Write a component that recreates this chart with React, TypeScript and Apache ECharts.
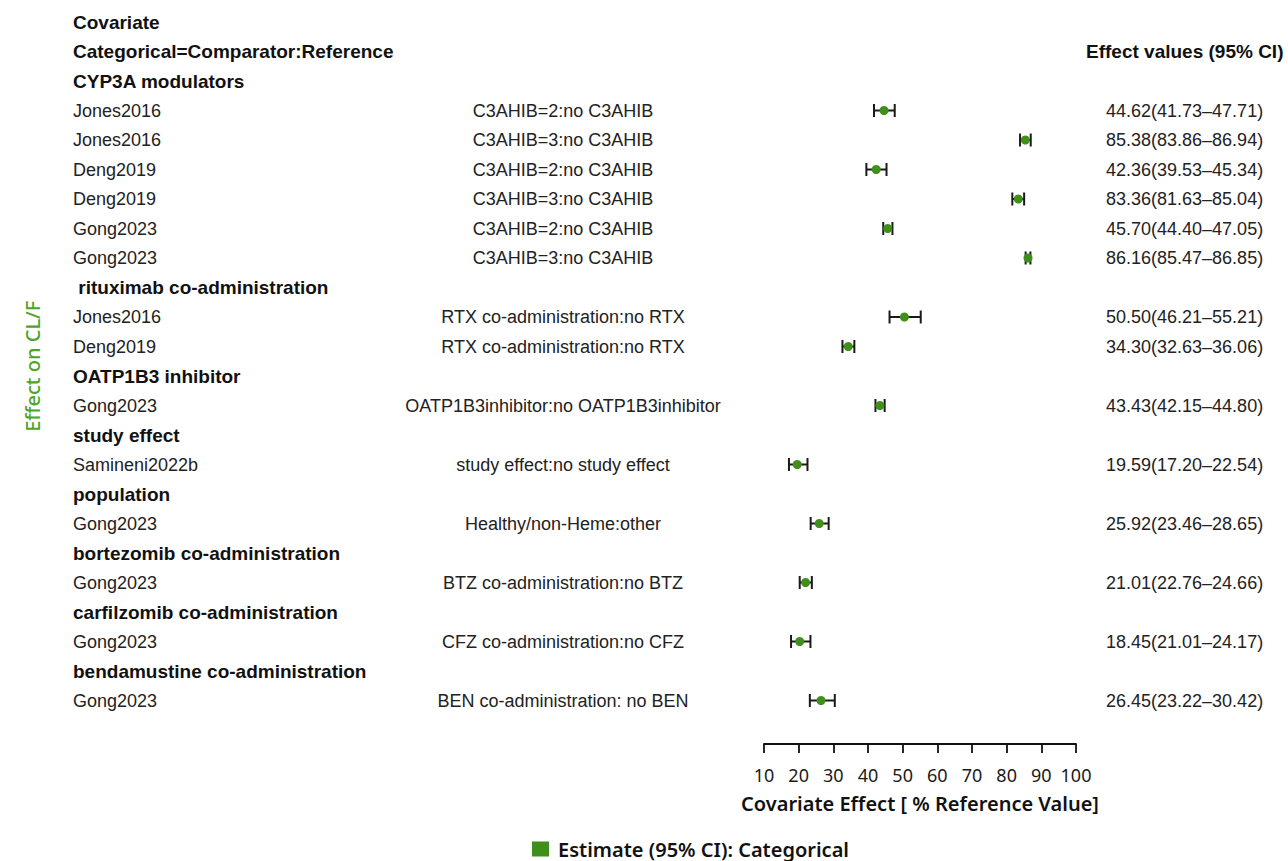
import React, { useEffect, useRef } from "react";
import * as echarts from "echarts";

// ---- Data ----
const rowLabels = [
  "Covariate",
  "Categorical=Comparator:Reference",
  "CYP3A modulators",
  "Jones2016",
  "Jones2016",
  "Deng2019",
  "Deng2019",
  "Gong2023",
  "Gong2023",
  " rituximab co-administration",
  "Jones2016",
  "Deng2019",
  "OATP1B3 inhibitor",
  "Gong2023",
  "study effect",
  "Samineni2022b",
  "population",
  "Gong2023",
  "bortezomib co-administration",
  "Gong2023",
  "carfilzomib co-administration",
  "Gong2023",
  "bendamustine co-administration",
  "Gong2023",
];

const headerRows = [0, 1, 2, 9, 12, 14, 16, 18, 20, 22];

const comparators = [
  "", "", "",
  "C3AHIB=2:no C3AHIB",
  "C3AHIB=3:no C3AHIB",
  "C3AHIB=2:no C3AHIB",
  "C3AHIB=3:no C3AHIB",
  "C3AHIB=2:no C3AHIB",
  "C3AHIB=3:no C3AHIB",
  "",
  "RTX co-administration:no RTX",
  "RTX co-administration:no RTX",
  "",
  "OATP1B3inhibitor:no OATP1B3inhibitor",
  "",
  "study effect:no study effect",
  "",
  "Healthy/non-Heme:other",
  "",
  "BTZ co-administration:no BTZ",
  "",
  "CFZ co-administration:no CFZ",
  "",
  "BEN co-administration: no BEN",
];

const effectLabels = [
  "",
  "Effect values (95% CI)",
  "",
  "44.62(41.73–47.71)",
  "85.38(83.86–86.94)",
  "42.36(39.53–45.34)",
  "83.36(81.63–85.04)",
  "45.70(44.40–47.05)",
  "86.16(85.47–86.85)",
  "",
  "50.50(46.21–55.21)",
  "34.30(32.63–36.06)",
  "",
  "43.43(42.15–44.80)",
  "",
  "19.59(17.20–22.54)",
  "",
  "25.92(23.46–28.65)",
  "",
  "21.01(22.76–24.66)",
  "",
  "18.45(21.01–24.17)",
  "",
  "26.45(23.22–30.42)",
];

const dataRows = [3, 4, 5, 6, 7, 8, 10, 11, 13, 15, 17, 19, 21, 23];
const estimates = [44.62, 85.38, 42.36, 83.36, 45.7, 86.16, 50.5, 34.3, 43.43, 19.59, 25.92, 22.0, 20.3, 26.45];
const lowers = [41.73, 83.86, 39.53, 81.63, 44.4, 85.47, 46.21, 32.63, 42.15, 17.2, 23.46, 20.3, 17.8, 23.22];
const uppers = [47.71, 86.94, 45.34, 85.04, 47.05, 86.85, 55.21, 36.06, 44.8, 22.54, 28.65, 23.8, 23.4, 30.42];

const xTicks = [10, 20, 30, 40, 50, 60, 70, 80, 90, 100];

const legendName = "Estimate (95% CI): Categorical";

// ---- Styles ----
const SANS = "'Liberation Sans', Arial, Helvetica, sans-serif";
const NOTO = "'Noto Sans', 'Open Sans', sans-serif";
const GREEN = "#3f8f1a";

const isHeader = (i: number) => headerRows.indexOf(i) >= 0;
const ids = rowLabels.map((_, i) => String(i));

function buildOption() {
  const richLeft = {
    h: { fontFamily: SANS, fontSize: 19, fontWeight: "bold", color: "#111" },
    n: { fontFamily: SANS, fontSize: 18, color: "#222" },
  };
  const richRight = {
    h: { fontFamily: SANS, fontSize: 19, fontWeight: "bold", color: "#111" },
    n: { fontFamily: SANS, fontSize: 18, color: "#222", padding: [0, 0, 0, 20] },
  };
  const baseY = {
    type: "category",
    data: ids,
    inverse: true,
    axisLine: { show: false },
    axisTick: { show: false },
    splitLine: { show: false },
  };
  return {
    animation: false,
    backgroundColor: "#ffffff",
    grid: { left: 764, right: 212, top: 7.25, bottom: 145.75 },
    legend: {
      data: [legendName],
      left: 532,
      top: 839,
      padding: 0,
      itemWidth: 17,
      itemHeight: 15,
      icon: "rect",
      textStyle: {
        fontFamily: NOTO,
        fontSize: 20,
        fontWeight: 600,
        lineHeight: 20,
        color: "#111",
        padding: [0, 0, 0, 4],
      },
    },
    xAxis: {
      type: "value",
      min: xTicks[0],
      max: xTicks[xTicks.length - 1],
      interval: 10,
      position: "bottom",
      offset: 28.75,
      splitLine: { show: false },
      axisLine: { show: true, lineStyle: { color: "#111", width: 1.8 } },
      axisTick: { show: true, length: 9, lineStyle: { color: "#111", width: 1.8 } },
      axisLabel: { margin: 22, fontFamily: NOTO, fontSize: 18, color: "#1a1a1a" },
      name: "Covariate Effect [ % Reference Value]",
      nameLocation: "middle",
      nameGap: 49,
      nameTextStyle: { fontFamily: NOTO, fontSize: 20, fontWeight: 600, color: "#111" },
    },
    yAxis: [
      {
        ...baseY,
        position: "left",
        axisLabel: {
          interval: 0,
          margin: 691,
          align: "left",
          formatter: (_v: string, i: number) =>
            isHeader(i) ? `{h|${rowLabels[i]}}` : `{n|${rowLabels[i]}}`,
          rich: richLeft,
        },
        name: "Effect on CL/F",
        nameLocation: "middle",
        nameGap: 722,
        nameRotate: 90,
        nameTextStyle: {
          fontFamily: NOTO,
          fontSize: 20,
          fontWeight: 500,
          color: "#4fa42a",
          padding: [0, 10, 0, 0],
        },
      },
      {
        ...baseY,
        position: "left",
        axisLabel: {
          interval: 0,
          margin: 201,
          align: "center",
          fontFamily: SANS,
          fontSize: 18,
          color: "#222",
          formatter: (_v: string, i: number) => comparators[i],
        },
      },
      {
        ...baseY,
        position: "right",
        axisLabel: {
          interval: 0,
          margin: 10,
          align: "left",
          formatter: (_v: string, i: number) =>
            effectLabels[i] === "" ? "" : isHeader(i) ? `{h|${effectLabels[i]}}` : `{n|${effectLabels[i]}}`,
          rich: richRight,
        },
      },
    ],
    series: [
      {
        type: "custom",
        name: "CI",
        yAxisIndex: 0,
        encode: { x: [1, 2], y: 0 },
        data: dataRows.map((r, k) => [r, lowers[k], uppers[k]]),
        renderItem: (_params: any, api: any) => {
          const row = api.value(0);
          const pLo = api.coord([api.value(1), row]);
          const pHi = api.coord([api.value(2), row]);
          const h = 6.5;
          const style = { stroke: "#1a1a1a", lineWidth: 2 };
          return {
            type: "group",
            children: [
              { type: "line", shape: { x1: pLo[0], y1: pLo[1], x2: pHi[0], y2: pHi[1] }, style },
              { type: "line", shape: { x1: pLo[0], y1: pLo[1] - h, x2: pLo[0], y2: pLo[1] + h }, style },
              { type: "line", shape: { x1: pHi[0], y1: pHi[1] - h, x2: pHi[0], y2: pHi[1] + h }, style },
            ],
          };
        },
        z: 2,
      },
      {
        type: "scatter",
        name: legendName,
        yAxisIndex: 0,
        symbol: "circle",
        symbolSize: 9,
        itemStyle: { color: GREEN, opacity: 1 },
        data: dataRows.map((r, k) => [estimates[k], r]),
        z: 3,
      },
    ],
  };
}

export default function App() {
  const ref = useRef<HTMLDivElement>(null);
  useEffect(() => {
    if (!ref.current) return;
    const chart = echarts.init(ref.current, null, { renderer: "svg" });
    chart.setOption(buildOption() as any);
    return () => chart.dispose();
  }, []);
  return (
    <div
      ref={ref}
      style={{ position: "absolute", left: 0, top: 0, width: 1288, height: 861, background: "#fff" }}
    />
  );
}
